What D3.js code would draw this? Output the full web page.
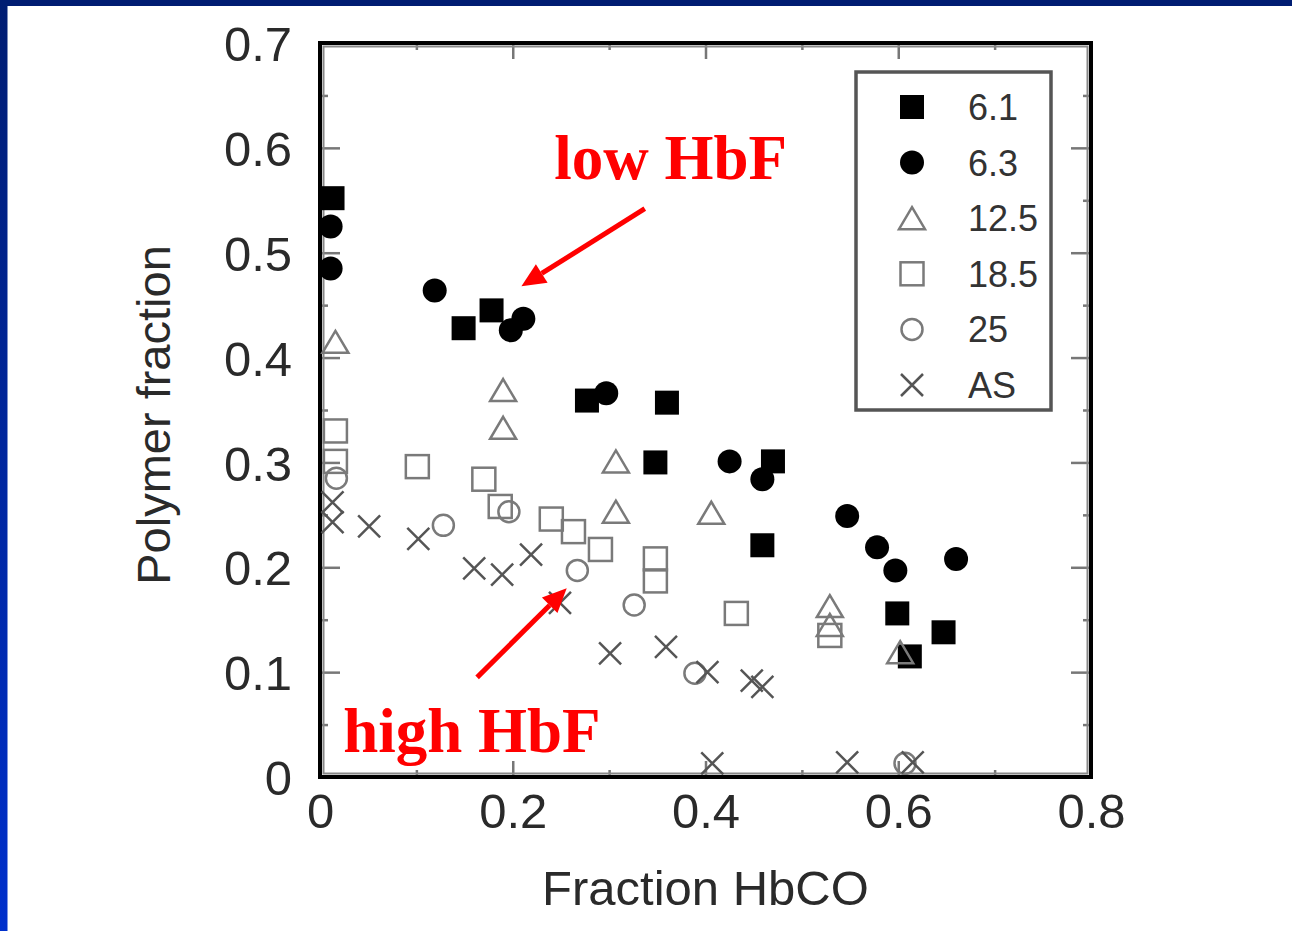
<!DOCTYPE html>
<html>
<head>
<meta charset="utf-8">
<script src="https://cdn.jsdelivr.net/npm/d3@7"></script>
<style>
  body { margin: 0; background: #fff; }
  svg { display: block; }
  .tick text { font-family: "Liberation Sans", Arial, sans-serif; fill: #2a2a2a; }
</style>
</head>
<body>
<svg width="1292" height="931"></svg>
<script>
var svg = d3.select("svg"),
    width = +svg.attr("width"),
    height = +svg.attr("height");

// ticks
var xMajor = [0, 0.2, 0.4, 0.6, 0.8];
var xMinor = [0.1, 0.3, 0.5, 0.7];
var yMajor = [0, 0.1, 0.2, 0.3, 0.4, 0.5, 0.6, 0.7];
var yMinor = [0.05, 0.15, 0.25, 0.35, 0.45, 0.55, 0.65];

// series: [fraction HbCO, polymer fraction]
var s61 = [[0.013, 0.552], [0.149, 0.428], [0.178, 0.445], [0.277, 0.359], [0.360, 0.357],
    [0.348, 0.300], [0.470, 0.301], [0.459, 0.221], [0.599, 0.156], [0.647, 0.138], [0.612, 0.115]];
var s63 = [[0.011, 0.525], [0.011, 0.485], [0.119, 0.464], [0.198, 0.426], [0.211, 0.437],
    [0.297, 0.366], [0.425, 0.301], [0.459, 0.284], [0.547, 0.249], [0.578, 0.219],
    [0.597, 0.197], [0.660, 0.208]];
var s125 = [[0.016, 0.415], [0.190, 0.369], [0.190, 0.333], [0.307, 0.301], [0.307, 0.253],
    [0.406, 0.252], [0.529, 0.163], [0.529, 0.145], [0.602, 0.119]];
var s185 = [[0.016, 0.330], [0.016, 0.301], [0.101, 0.296], [0.170, 0.284], [0.187, 0.258],
    [0.240, 0.246], [0.263, 0.234], [0.291, 0.217], [0.348, 0.208], [0.348, 0.187],
    [0.432, 0.156], [0.529, 0.135]];
var s25 = [[0.017, 0.285], [0.128, 0.240], [0.196, 0.253], [0.267, 0.197], [0.326, 0.164],
    [0.389, 0.099], [0.607, 0.013]];
var sAS = [[0.013, 0.262], [0.013, 0.243], [0.051, 0.239], [0.102, 0.227], [0.160, 0.199],
    [0.189, 0.193], [0.219, 0.212], [0.249, 0.166], [0.301, 0.118], [0.359, 0.124],
    [0.402, 0.100], [0.448, 0.092], [0.459, 0.086], [0.407, 0.013], [0.547, 0.014], [0.615, 0.014]];

var legendLabels = ["6.1", "6.3", "12.5", "18.5", "25", "AS"];
var shapes = ["fsquare", "fcircle", "triangle", "square", "circle", "cross"];
var seriesList = [s61, s63, s125, s185, s25, sAS];

// red notes, in data units
var notes = [{text: "low HbF", x: 0.243, y: 0.570}, {text: "high HbF", x: 0.024, y: 0.024}];
var arrows = [[[0.337, 0.542], [0.209, 0.468]], [[0.163, 0.095], [0.256, 0.180]]];

var x = d3.scaleLinear().domain([0, 0.8]).range([320, 1091]);
var y = d3.scaleLinear().domain([0, 0.7]).range([777, 43]);

// blue slide frame
var grad = svg.append("defs").append("linearGradient")
    .attr("id", "edge").attr("x1", 0).attr("y1", 0).attr("x2", 0).attr("y2", 1);
grad.append("stop").attr("offset", "0%").attr("stop-color", "#001d72");
grad.append("stop").attr("offset", "100%").attr("stop-color", "#0030cc");
svg.append("rect").attr("x", 0).attr("y", 0).attr("width", width).attr("height", 6).attr("fill", "#001d72");
svg.append("rect").attr("x", 0).attr("y", 0).attr("width", 7.5).attr("height", height).attr("fill", "url(#edge)");

function fmt(d) { return d === 0 ? "0" : d3.format(".1f")(d); }

function styleAxis(g) {
    g.select(".domain").remove();
    g.selectAll(".tick line").attr("stroke", "#777").attr("stroke-width", 2.5);
}

// axes with inward ticks
svg.append("g").attr("transform", "translate(0,777)")
    .call(d3.axisBottom(x).tickValues(xMajor).tickFormat(fmt).tickSize(-16).tickPadding(16))
    .call(styleAxis)
    .selectAll("text").attr("font-size", 49);
svg.append("g").attr("transform", "translate(0,777)")
    .call(d3.axisBottom(x).tickValues(xMinor).tickFormat("").tickSize(-7))
    .call(styleAxis);
svg.append("g").attr("transform", "translate(0,43)")
    .call(d3.axisTop(x).tickValues(xMajor).tickFormat("").tickSize(-16))
    .call(styleAxis);
svg.append("g").attr("transform", "translate(0,43)")
    .call(d3.axisTop(x).tickValues(xMinor).tickFormat("").tickSize(-7))
    .call(styleAxis);

svg.append("g").attr("transform", "translate(320,0)")
    .call(d3.axisLeft(y).tickValues(yMajor).tickFormat(fmt).tickSize(-20).tickPadding(28))
    .call(styleAxis)
    .selectAll("text").attr("font-size", 49).attr("dy", "0.36em");
svg.append("g").attr("transform", "translate(320,0)")
    .call(d3.axisLeft(y).tickValues(yMinor).tickFormat("").tickSize(-8))
    .call(styleAxis);
svg.append("g").attr("transform", "translate(1091,0)")
    .call(d3.axisRight(y).tickValues(yMajor).tickFormat("").tickSize(-20))
    .call(styleAxis);
svg.append("g").attr("transform", "translate(1091,0)")
    .call(d3.axisRight(y).tickValues(yMinor).tickFormat("").tickSize(-8))
    .call(styleAxis);

// frame
svg.append("rect")
    .attr("x", 320).attr("y", 43).attr("width", 771).attr("height", 734)
    .attr("fill", "none").attr("stroke", "#000").attr("stroke-width", 4);
svg.append("rect")
    .attr("x", 323.5).attr("y", 46.5).attr("width", 764).attr("height", 727)
    .attr("fill", "none").attr("stroke", "#888").attr("stroke-width", 2);

// axis titles
svg.append("text")
    .attr("x", (x(0) + x(0.8)) / 2).attr("y", 905)
    .attr("text-anchor", "middle")
    .attr("font-family", "Liberation Sans, Arial, sans-serif")
    .attr("font-size", 49).attr("fill", "#2a2a2a")
    .text("Fraction HbCO");
svg.append("text")
    .attr("transform", "translate(170," + ((y(0) + y(0.7)) / 2 + 5) + ") rotate(-90)")
    .attr("text-anchor", "middle")
    .attr("font-family", "Liberation Sans, Arial, sans-serif")
    .attr("font-size", 47).attr("fill", "#2a2a2a")
    .text("Polymer fraction");

// marker drawing
function drawMark(g, type) {
    if (type == "fsquare") {
        g.append("rect").attr("x", -12).attr("y", -12).attr("width", 24).attr("height", 24).attr("fill", "#000");
    } else if (type == "fcircle") {
        g.append("circle").attr("r", 12).attr("fill", "#000");
    } else if (type == "triangle") {
        g.append("path").attr("d", "M0,-11L13,11L-13,11Z")
            .attr("fill", "none").attr("stroke", "#7a7a7a").attr("stroke-width", 2.5);
    } else if (type == "square") {
        g.append("rect").attr("x", -11.5).attr("y", -11.5).attr("width", 23).attr("height", 23)
            .attr("fill", "none").attr("stroke", "#7a7a7a").attr("stroke-width", 2.5);
    } else if (type == "circle") {
        g.append("circle").attr("r", 10.5)
            .attr("fill", "none").attr("stroke", "#7a7a7a").attr("stroke-width", 2.5);
    } else {
        g.append("path").attr("d", "M-11,-11L11,11M-11,11L11,-11")
            .attr("fill", "none").attr("stroke", "#555").attr("stroke-width", 2.5);
    }
}

var plot = svg.append("g");
seriesList.forEach(function(s, i) {
    plot.append("g").selectAll("g")
        .data(s)
        .enter().append("g")
        .attr("transform", function(d) { return "translate(" + x(d[0]) + "," + y(d[1]) + ")"; })
        .each(function() { drawMark(d3.select(this), shapes[i]); });
});

// legend
var legend = svg.append("g");
legend.append("rect")
    .attr("x", 856).attr("y", 72).attr("width", 195).attr("height", 338)
    .attr("fill", "#fff").attr("stroke", "#555").attr("stroke-width", 3.5);
legendLabels.forEach(function(lab, i) {
    var row = legend.append("g").attr("transform", "translate(0," + (107 + i * 55.6) + ")");
    drawMark(row.append("g").attr("transform", "translate(912,0)"), shapes[i]);
    row.append("text")
        .attr("x", 968).attr("y", 13)
        .attr("font-family", "Liberation Sans, Arial, sans-serif")
        .attr("font-size", 36).attr("fill", "#333")
        .text(lab);
});

// annotations
svg.append("g").selectAll("text")
    .data(notes)
    .enter().append("text")
    .attr("x", function(d) { return x(d.x); })
    .attr("y", function(d) { return y(d.y); })
    .attr("font-family", "Liberation Serif, Times New Roman, serif")
    .attr("font-weight", "bold")
    .attr("font-size", 63)
    .attr("fill", "#ff0000")
    .text(function(d) { return d.text; });

arrows.forEach(function(a) {
    var x1 = x(a[0][0]), y1 = y(a[0][1]), x2 = x(a[1][0]), y2 = y(a[1][1]);
    var ang = Math.atan2(y2 - y1, x2 - x1);
    var len = 24, hw = 11;
    var bx = x2 - len * Math.cos(ang), by = y2 - len * Math.sin(ang);
    svg.append("line")
        .attr("x1", x1).attr("y1", y1).attr("x2", bx).attr("y2", by)
        .attr("stroke", "#ff0000").attr("stroke-width", 5);
    svg.append("path")
        .attr("d", "M" + x2 + "," + y2 +
            "L" + (bx + hw * Math.sin(ang)) + "," + (by - hw * Math.cos(ang)) +
            "L" + (bx - hw * Math.sin(ang)) + "," + (by + hw * Math.cos(ang)) + "Z")
        .attr("fill", "#ff0000");
});
</script>
</body>
</html>
